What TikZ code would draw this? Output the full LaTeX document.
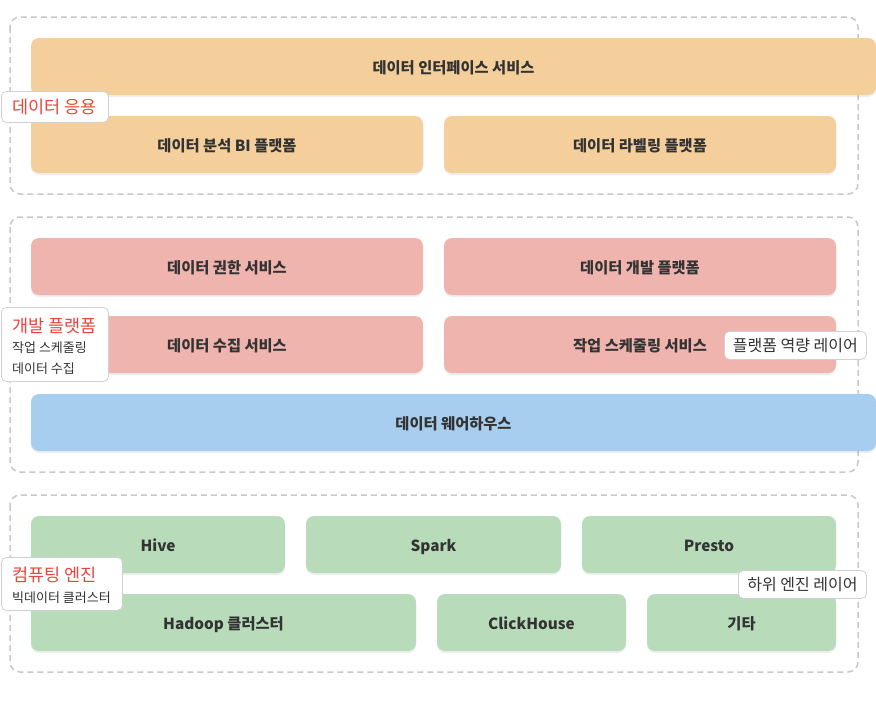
\documentclass[tikz,border=0pt]{standalone}
\usepackage{fontspec}
\setmainfont{Noto Sans CJK KR}
\usetikzlibrary{shadows}
\definecolor{orangeb}{HTML}{F4CF9B}
\definecolor{pinkb}{HTML}{F0B4AF}
\definecolor{blueb}{HTML}{A7CEEF}
\definecolor{greenb}{HTML}{B8DCB9}
\definecolor{txt}{HTML}{333333}
\definecolor{redt}{HTML}{E8453C}
\definecolor{dashc}{HTML}{C8C8C8}
\definecolor{lblb}{HTML}{D0D0D0}
\tikzset{
  grp/.style={draw=dashc, line width=1.5pt, dash pattern=on 6pt off 4pt, rounded corners=10pt},
  box/.style={rounded corners=8pt, inner sep=0pt, font=\fontsize{15.3}{17}\selectfont\bfseries, text=txt,
     text height=15pt, text depth=2pt,
     drop shadow={opacity=0.12, shadow xshift=0pt, shadow yshift=-2pt}},
  ob/.style={box, fill=orangeb},
  pb/.style={box, fill=pinkb},
  bb/.style={box, fill=blueb},
  gb/.style={box, fill=greenb},
  lbl/.style={draw=lblb, line width=0.8pt, fill=white, rounded corners=5pt, align=left, inner sep=0pt, text=txt,
     text height=13pt, text depth=1pt},
  ttl/.style={anchor=west, text=redt, font=\fontsize{17.5}{19}\selectfont, inner sep=0pt, text height=12pt, text depth=3pt},
  sub/.style={anchor=west, text=txt, font=\fontsize{13}{15}\selectfont, inner sep=0pt, text height=9pt, text depth=3pt},
}
\begin{document}
\begin{tikzpicture}[x=1pt,y=-1pt]
\useasboundingbox (0,0) rectangle (876,705);
\fill[white] (0,0) rectangle (876,705);
% groups
\draw[grp] (10,17) rectangle (858,194);
\draw[grp] (10,217) rectangle (858,472);
\draw[grp] (10,495) rectangle (858,672);
% group 1
\node[ob, minimum width=845pt, minimum height=57pt] (iface) at (453.5,66.5) {데이터 인터페이스 서비스};
\node[ob, minimum width=392pt, minimum height=57pt] (bi) at (227,144.5) {데이터 분석 BI 플랫폼};
\node[ob, minimum width=392pt, minimum height=57pt] (label) at (640,144.5) {데이터 라벨링 플랫폼};
% group 2
\node[pb, minimum width=392pt, minimum height=57pt] (auth) at (227,266.5) {데이터 권한 서비스};
\node[pb, minimum width=392pt, minimum height=57pt] (dev) at (640,266.5) {데이터 개발 플랫폼};
\node[pb, minimum width=392pt, minimum height=57pt] (coll) at (227,344.5) {데이터 수집 서비스};
\node[pb, minimum width=392pt, minimum height=57pt] (sched) at (640,344.5) {작업 스케줄링 서비스};
\node[bb, minimum width=845pt, minimum height=57pt] (dw) at (453.5,422.5) {데이터 웨어하우스};
% group 3
\node[gb, minimum width=254pt, minimum height=57pt] (hive) at (158,544.5) {Hive};
\node[gb, minimum width=255pt, minimum height=57pt] (spark) at (433.5,544.5) {Spark};
\node[gb, minimum width=254pt, minimum height=57pt] (presto) at (709,544.5) {Presto};
\node[gb, minimum width=385pt, minimum height=57pt] (hadoop) at (223.5,622.5) {Hadoop 클러스터};
\node[gb, minimum width=189pt, minimum height=57pt] (ch) at (531.5,622.5) {ClickHouse};
\node[gb, minimum width=189pt, minimum height=57pt] (etc) at (741.5,622.5) {기타};
% labels
\node[lbl, minimum width=107pt, minimum height=31pt, anchor=north west] (l1) at (1,91) {};
\node[ttl] (l1t) at (12,109) {데이터 응용};
\node[lbl, minimum width=107pt, minimum height=74pt, anchor=north west] (l2) at (1,307) {};
\node[ttl] (l2t) at (12,327.5) {개발 플랫폼};
\node[sub] (l2a) at (12,349) {작업 스케줄링};
\node[sub] (l2b) at (12,370) {데이터 수집};
\node[lbl, minimum width=142pt, minimum height=28pt, anchor=north west, font=\fontsize{16}{18}\selectfont] (l3) at (724,331) {플랫폼 역량 레이어};
\node[lbl, minimum width=121pt, minimum height=53pt, anchor=north west] (l4) at (1,557) {};
\node[ttl] (l4t) at (12,576.5) {컴퓨팅 엔진};
\node[sub] (l4a) at (12,599) {빅데이터 클러스터};
\node[lbl, minimum width=128pt, minimum height=28pt, anchor=north west, font=\fontsize{16}{18}\selectfont] (l5) at (738,570) {하위 엔진 레이어};
\end{tikzpicture}
\end{document}
